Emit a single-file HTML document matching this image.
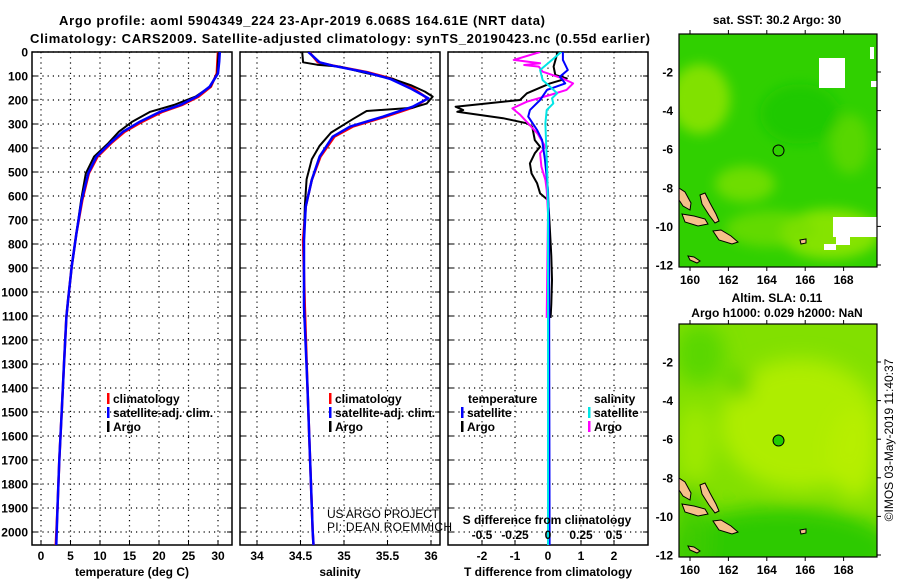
<!DOCTYPE html>
<html><head><meta charset="utf-8">
<style>
html,body{margin:0;padding:0;background:#fff}
svg{display:block}
text{font-family:"Liberation Sans",Arial,sans-serif;font-weight:bold;fill:#000}
.thin{font-weight:normal}
</style></head>
<body>
<svg id="fig" width="900" height="580" viewBox="0 0 900 580" xmlns="http://www.w3.org/2000/svg">
<defs>
  <clipPath id="c1"><rect x="32" y="52" width="200" height="493"/></clipPath>
  <clipPath id="c2"><rect x="240" y="52" width="200" height="493"/></clipPath>
  <clipPath id="c3"><rect x="448" y="52" width="200" height="493"/></clipPath>
  <clipPath id="cm1"><rect x="679" y="34" width="198" height="233"/></clipPath>
  <clipPath id="cm2"><rect x="679" y="324" width="198" height="233"/></clipPath>
  <filter id="blur6"><feGaussianBlur stdDeviation="6"/></filter>
  <filter id="blur10"><feGaussianBlur stdDeviation="10"/></filter>
</defs>
<text x="302" y="25" font-size="13" text-anchor="middle" textLength="486">Argo profile: aoml 5904349_224 23-Apr-2019 6.068S 164.61E (NRT data)</text>
<text x="340" y="43" font-size="13" text-anchor="middle" textLength="620">Climatology: CARS2009. Satellite-adjusted climatology: synTS_20190423.nc (0.55d earlier)</text>
<g id="panels"></g>
<g id="maps"></g>
<text transform="translate(893,440) rotate(-90)" font-size="12" text-anchor="middle" class="thin">©IMOS 03-May-2019 11:40:37</text>
</svg>
<script>
// ---- depth axis ----
const depthTicks = [0,100,200,300,400,500,600,700,800,900,1000,1100,1200,1300,1400,1500,1600,1700,1800,1900,2000];
const tempTicks = [0,5,10,15,20,25,30];
const salTicks = [34,34.5,35,35.5,36];
const tdiffTicks = [-2,-1,0,1,2];
const sdiffTickLabels = ["-0.5","-0.25","0","0.25","0.5"];
const sdiffTicks = [-0.5,-0.25,0,0.25,0.5];

// ---- temperature profiles ----
const climDepth = [0,40,89,144,186,221,249,290,332,380,436,506,617,756,894,1033,1103,1300,1500,1700,1900,2054];
const tempClim  = [30.0,29.9,29.8,28.8,26.7,23.9,20.6,17.2,14.2,11.9,9.6,8.1,7.0,6.0,5.2,4.6,4.3,3.9,3.5,3.1,2.8,2.5];
const tempSat   = [30.3,30.2,30.0,28.6,26.4,23.6,20.2,16.8,13.9,11.7,9.4,8.0,6.9,6.0,5.2,4.6,4.3,3.9,3.5,3.1,2.8,2.6];
const argoDepth = [0,40,89,144,186,221,249,290,332,380,436,506,617,756,894,1033,1108];
const tempArgo  = [30.1,30.0,29.9,28.7,26.2,22.5,18.5,15.5,13.2,11.4,9.0,7.6,6.8,6.0,5.2,4.6,4.3];

// ---- salinity profiles ----
const salDepth = [0,43,57,85,112,151,193,228,269,311,353,436,533,644,783,1061,1400,1700,2000,2054];
const salClim  = [34.60,34.70,34.88,35.28,35.56,35.79,35.96,35.82,35.48,35.10,34.89,34.73,34.63,34.56,34.53,34.55,34.58,34.61,34.64,34.65];
const salSat   = [34.59,34.72,34.87,35.26,35.53,35.76,35.97,35.79,35.45,35.07,34.87,34.72,34.63,34.56,34.54,34.54,34.58,34.61,34.64,34.65];
const salArgoDepth = [0,43,53,61,85,112,140,165,186,215,232,246,280,336,391,447,530,644,783,1108];
const salArgo      = [34.52,34.53,34.69,34.95,35.22,35.56,35.78,35.93,36.02,35.95,35.79,35.26,35.10,34.85,34.72,34.63,34.57,34.55,34.54,34.54];

// ---- difference profiles ----
const dtSatDepth = [0,33,75,103,131,158,200,242,269,325,367,450,575,714,2054];
const dtSat      = [0.45,0.45,0.6,0.36,0.52,-0.03,-0.24,-0.55,-0.6,-0.33,-0.18,-0.09,0,0.03,0.05];
const dsSatDepth = [0,40,75,117,144,172,193,214,242,297,367,506,644,2054];
const dsSat      = [0.10,0.015,-0.06,-0.04,0.015,0.07,0.03,0.04,-0.01,-0.02,-0.015,-0.005,0,0];
const dtArgoDepth = [0,12,61,96,110,131,172,200,228,242,249,276,297,311,367,395,422,464,506,547,589,617,672,748,850,950,1050,1108];
const dtArgo      = [0.27,0.27,0.17,0.22,0.57,0.06,-0.64,-0.85,-2.8,-2.57,-2.75,-1.36,-0.64,-0.48,-0.4,-0.24,-0.4,-0.55,-0.5,-0.33,-0.24,0,0.03,0.06,0.1,0.12,0.1,0.08];
const dsArgoDepth = [0,33,47,54,61,82,110,131,158,179,207,235,262,339,395,422,478,533,575,672,1108];
const dsArgo      = [-0.06,-0.26,-0.06,-0.18,-0.07,-0.04,0.11,0.19,0.14,0.015,-0.16,-0.27,-0.21,-0.08,-0.02,-0.06,-0.05,-0.02,-0.01,0,-0.01];

// ---- map axes ----
const lonTicks = [160,162,164,166,168];
const latTicks = [-2,-4,-6,-8,-10,-12];
const floatLon = 164.61, floatLat = -6.07;

const NS = "http://www.w3.org/2000/svg";
const yD = d => 52 + d * 0.24;
const xT = t => 41 + (t - 0) * 5.9;
const xS = s => 257 + (s - 34) * 87;
const xdT = v => 548 + 33 * v;
const xdS = v => 548 + 132 * v;

function mk(tag, attrs, parent) {
  const e = document.createElementNS(NS, tag);
  for (const k in attrs) e.setAttribute(k, attrs[k]);
  parent.appendChild(e);
  return e;
}
const root = document.getElementById('panels');

function line(parent, depths, vals, xf, color, w, name) {
  const pts = depths.map((d, i) => xf(vals[i]).toFixed(1) + ',' + yD(d).toFixed(1)).join(' ');
  const p = mk('polyline', {points: pts, fill: 'none', stroke: color, 'stroke-width': w, 'stroke-linejoin': 'round'}, parent);
  
  
}

function panel(x0, clip, ticks, xf, labels, xtitle, name) {
  const g = mk('g', {}, root);
  
  
  depthTicks.forEach(d => {
    const l = mk('line', {x1: x0, x2: x0 + 200, y1: yD(d), y2: yD(d), stroke: '#000', 'stroke-width': 1.2, 'stroke-dasharray': '1.2 4'}, g);
    
    
    mk('line', {x1: x0, x2: x0 + 5, y1: yD(d), y2: yD(d), stroke: '#000'}, g);
    mk('line', {x1: x0 + 195, x2: x0 + 200, y1: yD(d), y2: yD(d), stroke: '#000'}, g);
  });
  ticks.forEach((t, i) => {
    const x = xf(t);
    const l = mk('line', {x1: x, x2: x, y1: 52, y2: 545, stroke: '#000', 'stroke-width': 1.2, 'stroke-dasharray': '1.2 4'}, g);
    
    
    mk('line', {x1: x, x2: x, y1: 540, y2: 545, stroke: '#000'}, g);
    const tx = mk('text', {x: x, y: 560, 'font-size': 12, 'text-anchor': 'middle'}, g);
    tx.textContent = labels[i];
    
    
  });
  const fr = mk('rect', {x: x0, y: 52, width: 200, height: 493, fill: 'none', stroke: '#000', 'stroke-width': 1.5}, g);
  
  
  const tt = mk('text', {x: x0 + 100, y: 576, 'font-size': 12, 'text-anchor': 'middle'}, g);
  tt.textContent = xtitle;
  
  
  const sg = mk('g', {'clip-path': 'url(#' + clip + ')'}, g);
  return {g, sg};
}

depthTicks.forEach(d => {
  const t = mk('text', {x: 28, y: yD(d) + 4.5, 'font-size': 12, 'text-anchor': 'end'}, root);
  t.textContent = d;
  
  
});

const p1 = panel(32, 'c1', tempTicks, xT, tempTicks.map(String), 'temperature (deg C)', 'temperature-panel');
line(p1.sg, climDepth, tempClim, xT, '#ff0000', 2.5, 'temp-climatology-line');
line(p1.sg, argoDepth, tempArgo, xT, '#000', 2, 'temp-argo-line');
line(p1.sg, climDepth, tempSat, xT, '#0000ff', 2.5, 'temp-satellite-line');

const p2 = panel(240, 'c2', salTicks, xS, ["34","34.5","35","35.5","36"], 'salinity', 'salinity-panel');
line(p2.sg, salDepth, salClim, xS, '#ff0000', 2.5, 'sal-climatology-line');
line(p2.sg, salArgoDepth, salArgo, xS, '#000', 2, 'sal-argo-line');
line(p2.sg, salDepth, salSat, xS, '#0000ff', 2.5, 'sal-satellite-line');

const p3 = panel(448, 'c3', tdiffTicks, xdT, tdiffTicks.map(String), 'T difference from climatology', 'difference-panel');
line(p3.sg, dtArgoDepth, dtArgo, xdT, '#000', 2, 'tdiff-argo-line');
line(p3.sg, dsArgoDepth, dsArgo, xdS, '#ff00ff', 2, 'sdiff-argo-line');
line(p3.sg, dtSatDepth, dtSat, xdT, '#0000ff', 2, 'tdiff-satellite-line');
line(p3.sg, dsSatDepth, dsSat, xdS, '#00e5e5', 2, 'sdiff-satellite-line');

const sdt = mk('text', {x: 547, y: 524, 'font-size': 12, 'text-anchor': 'middle'}, root);
sdt.textContent = 'S difference from climatology';


sdiffTicks.forEach((v, i) => {
  const t = mk('text', {x: xdS(v), y: 539, 'font-size': 12, 'text-anchor': 'middle'}, root);
  t.textContent = sdiffTickLabels[i];
  
  
});

function legendItem(x, y, color, label, nm) {
  if (color) {
    const r = mk('rect', {x: x, y: y - 10, width: 2.5, height: 11, fill: color}, root);
    
    
  }
  const t = mk('text', {x: x + 6, y: y, 'font-size': 12}, root);
  t.textContent = label;
  
  
}
legendItem(107, 403, '#ff0000', 'climatology', 'legend-climatology');
legendItem(107, 417, '#0000ff', 'satellite-adj. clim.', 'legend-satellite');
legendItem(107, 431, '#000', 'Argo', 'legend-argo');
legendItem(329, 403, '#ff0000', 'climatology', 'legend-climatology');
legendItem(329, 417, '#0000ff', 'satellite-adj. clim.', 'legend-satellite');
legendItem(329, 431, '#000', 'Argo', 'legend-argo');
legendItem(462, 403, null, 'temperature', 'legend-temperature-heading');
legendItem(461, 417, '#0000ff', 'satellite', 'legend-t-satellite');
legendItem(461, 431, '#000', 'Argo', 'legend-t-argo');
legendItem(588, 403, null, 'salinity', 'legend-salinity-heading');
legendItem(588, 417, '#00e5e5', 'satellite', 'legend-s-satellite');
legendItem(588, 431, '#ff00ff', 'Argo', 'legend-s-argo');

const cr1 = mk('text', {x: 327, y: 518, 'font-size': 12, class: 'thin', textLength: 112}, root);
cr1.textContent = 'US ARGO PROJECT';


const cr2 = mk('text', {x: 327, y: 531, 'font-size': 12, class: 'thin', textLength: 125}, root);
cr2.textContent = 'PI: DEAN ROEMMICH';



// ---- maps ----
const maps = document.getElementById('maps');
const mX = lon => 690 + (lon - 160) * 19.2;
function islands(g, dy) {
  const polys = [
    [[700,195],[705,193],[710,203],[716,214],[719,221],[715,223],[709,215],[702,204]],
    [[682,214],[694,216],[705,219],[708,224],[698,226],[685,222]],
    [[679,188],[685,192],[691,203],[690,210],[683,206],[679,200]],
    [[713,231],[721,230],[731,236],[738,242],[732,244],[719,240]],
    [[688,256],[694,257],[700,261],[697,263],[690,260]],
    [[800,240],[806,239],[806,243],[801,244]]
  ];
  polys.forEach(p => {
    const e = mk('polygon', {points: p.map(q => q[0] + ',' + (q[1] + dy)).join(' '), fill: '#f5c08a', stroke: '#000', 'stroke-width': 1}, g);
    
    
  });
}
function mapFrame(top, clip, title1, title2, name, bottomMap) {
  const mY = lat => top + 38 + (-2 - lat) * 19.3;
  const g = mk('g', {}, maps);
  
  
  const inner = mk('g', {'clip-path': 'url(#' + clip + ')'}, g);
  if (!bottomMap) {
    mk('rect', {x: 679, y: top, width: 198, height: 233, fill: '#30d000'}, inner);
    const b = mk('g', {filter: 'url(#blur6)'}, inner);
    mk('ellipse', {cx: 700, cy: top + 65, rx: 30, ry: 35, fill: '#96e600', opacity: 0.8}, b);
    mk('ellipse', {cx: 745, cy: top + 150, rx: 30, ry: 18, fill: '#88e200', opacity: 0.7}, b);
    mk('ellipse', {cx: 830, cy: top + 200, rx: 50, ry: 25, fill: '#9ae800', opacity: 0.8}, b);
    mk('ellipse', {cx: 770, cy: top + 195, rx: 45, ry: 18, fill: '#78de00', opacity: 0.7}, b);
    mk('ellipse', {cx: 850, cy: top + 110, rx: 20, ry: 30, fill: '#70dc00', opacity: 0.6}, b);
    mk('ellipse', {cx: 800, cy: top + 80, rx: 40, ry: 30, fill: '#10c400', opacity: 0.6}, b);
    [[819,58,26,30],[833,217,44,20],[836,237,14,8],[870,47,4,12],[871,81,6,6],[824,244,12,6]].forEach(r => {
      const w = mk('rect', {x: r[0], y: r[1], width: r[2], height: r[3], fill: '#fff'}, inner);
      
      
    });
  } else {
    mk('rect', {x: 679, y: top, width: 198, height: 233, fill: '#82e000'}, inner);
    const b = mk('g', {filter: 'url(#blur10)'}, inner);
    mk('ellipse', {cx: 800, cy: top + 100, rx: 80, ry: 65, fill: '#b4ee00', opacity: 0.9}, b);
    mk('ellipse', {cx: 855, cy: top + 130, rx: 25, ry: 45, fill: '#b8f000', opacity: 0.9}, b);
    mk('ellipse', {cx: 695, cy: top + 120, rx: 18, ry: 40, fill: '#aaec00', opacity: 0.7}, b);
    mk('ellipse', {cx: 700, cy: top + 30, rx: 25, ry: 30, fill: '#50d400', opacity: 0.8}, b);
    mk('ellipse', {cx: 780, cy: top + 225, rx: 115, ry: 42, fill: '#22c800', opacity: 0.9}, b);
    mk('ellipse', {cx: 740, cy: top + 60, rx: 10, ry: 14, fill: '#30c800', opacity: 0.8}, b);
    mk('ellipse', {cx: 690, cy: top + 210, rx: 20, ry: 50, fill: '#40cc00', opacity: 0.8}, b);
  }
  islands(inner, top - 34);
  const cx = mX(floatLon), cy = mY(floatLat);
  const m = mk('circle', {cx: cx, cy: cy, r: 5.5, fill: bottomMap ? '#22cc00' : 'none', stroke: '#000', 'stroke-width': 1}, g);
  
  
  const fr = mk('rect', {x: 679, y: top, width: 198, height: 233, fill: 'none', stroke: '#000', 'stroke-width': 1.2}, g);
  
  
  lonTicks.forEach(lon => {
    const x = mX(lon);
    mk('line', {x1: x, x2: x, y1: top - 4, y2: top, stroke: '#000'}, g);
    mk('line', {x1: x, x2: x, y1: top + 233, y2: top + 237, stroke: '#000'}, g);
    const t = mk('text', {x: x, y: top + 250, 'font-size': 12, 'text-anchor': 'middle'}, g);
    t.textContent = lon;
    
    
  });
  latTicks.forEach(lat => {
    const y = mY(lat);
    mk('line', {x1: 877, x2: 881, y1: y, y2: y, stroke: '#000'}, g);
    const t = mk('text', {x: 673, y: y + 4.5, 'font-size': 12, 'text-anchor': 'end'}, g);
    t.textContent = lat;
    
    
  });
  const t1 = mk('text', {x: 777, y: bottomMap ? top - 22 : top - 10, 'font-size': 12, 'text-anchor': 'middle'}, g);
  t1.textContent = title1;
  
  
  if (title2) {
    const t2 = mk('text', {x: 777, y: top - 7, 'font-size': 12, 'text-anchor': 'middle'}, g);
    t2.textContent = title2;
    
    
  }
}
mapFrame(34, 'cm1', 'sat. SST: 30.2 Argo: 30', null, 'sst-map', false);
mapFrame(324, 'cm2', 'Altim. SLA: 0.11', 'Argo h1000: 0.029 h2000: NaN', 'sla-map', true);
</script>
</body></html>
